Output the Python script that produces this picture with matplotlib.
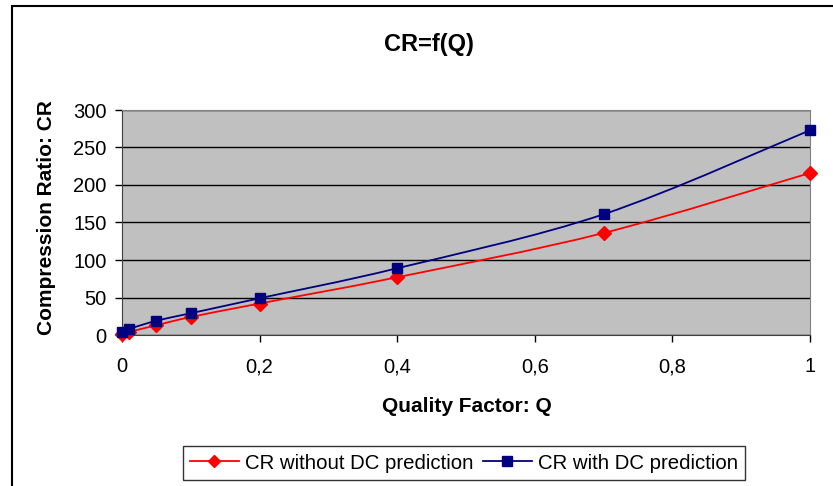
import numpy as np
import matplotlib.pyplot as plt
from matplotlib.path import Path
from matplotlib.patches import PathPatch, Rectangle
from matplotlib.lines import Line2D
from matplotlib.ticker import FuncFormatter

plt.rcParams['font.family'] = ['Liberation Sans', 'DejaVu Sans']

# Data
quality = [0, 0.01, 0.05, 0.1, 0.2, 0.4, 0.7, 1.0]
cr_without_dc = [1, 4, 13, 24, 42, 77, 136, 216]
cr_with_dc = [4, 8, 19, 29, 49, 89, 161, 273]

red = '#FF0000'
navy = '#000080'


def smooth_path(x, y):
    # Excel-like smoothed line: Catmull-Rom converted to cubic Bezier segments
    pts = np.column_stack([x, y]).astype(float)
    n = len(pts)
    verts = [pts[0]]
    codes = [Path.MOVETO]
    for i in range(n - 1):
        p0 = pts[i - 1] if i > 0 else pts[i]
        p1 = pts[i]
        p2 = pts[i + 1]
        p3 = pts[i + 2] if i + 2 < n else pts[i + 1]
        c1 = p1 + (p2 - p0) / 6.0
        c2 = p2 - (p3 - p1) / 6.0
        verts += [c1, c2, p2]
        codes += [Path.CURVE4] * 3
    return Path(verts, codes)


fig = plt.figure(figsize=(8.33, 4.86), dpi=100)

# outer chart border (cut off on the right and bottom)
fig.patches.append(Rectangle((12 / 833, -0.1), 1.2, 1 - 6 / 486 + 0.1,
                             transform=fig.transFigure, fill=False,
                             edgecolor='black', linewidth=1.5))

ax = fig.add_axes([122 / 833, 1 - 335 / 486, (810 - 122) / 833, (335 - 110) / 486])
ax.set_facecolor('#C0C0C0')
ax.set_xlim(0, 1)
ax.set_ylim(0, 300)
ax.set_yticks(np.arange(0, 301, 50))
ax.set_xticks(np.arange(0, 1.01, 0.2))
ax.xaxis.set_major_formatter(FuncFormatter(
    lambda v, p: '0' if abs(v) < 1e-9 else ('1' if abs(v - 1) < 1e-9 else f'{v:.1f}'.replace('.', ','))))
ax.yaxis.grid(True, color='black', linewidth=1)
ax.set_axisbelow(True)
for side in ['top', 'right']:
    ax.spines[side].set_color('#808080')
for side in ['left', 'bottom']:
    ax.spines[side].set_color('#404040')
ax.tick_params(axis='both', direction='out', length=5, width=1, colors='black',
               labelsize=14.5)
ax.tick_params(axis='x', pad=11)
ax.tick_params(axis='y', pad=6)

for yv, col, mk, ms in [(cr_without_dc, red, 'D', 7), (cr_with_dc, navy, 's', 7.5)]:
    ax.add_patch(PathPatch(smooth_path(quality, yv), facecolor='none',
                           edgecolor=col, linewidth=1.3, zorder=3))
    ax.plot(quality, yv, linestyle='none', marker=mk, markersize=ms,
            color=col, zorder=4, clip_on=False)

fig.text(429 / 833, 1 - 45 / 486, 'CR=f(Q)', ha='center', va='center',
         fontsize=17, fontweight='bold')
fig.text(467 / 833, 1 - 406 / 486, 'Quality Factor: Q', ha='center', va='center',
         fontsize=15, fontweight='bold')
fig.text(47 / 833, 1 - 218 / 486, 'Compression Ratio: CR', ha='center', va='center',
         fontsize=15, fontweight='bold', rotation=90)

handles = [Line2D([], [], color=red, marker='D', markersize=6.5, linewidth=1.3),
           Line2D([], [], color=navy, marker='s', markersize=6.5, linewidth=1.3)]
leg = fig.legend(handles, ['CR without DC prediction', 'CR with DC prediction'],
                 loc='center', bbox_to_anchor=(464 / 833, 1 - 463 / 486), ncol=2,
                 fontsize=14.7, frameon=True, fancybox=False, edgecolor='black',
                 handlelength=2.4, handletextpad=0.3, columnspacing=0.45,
                 borderpad=0.35, borderaxespad=0)
leg.get_frame().set_linewidth(1)

fig.savefig('out.png', dpi=100)
